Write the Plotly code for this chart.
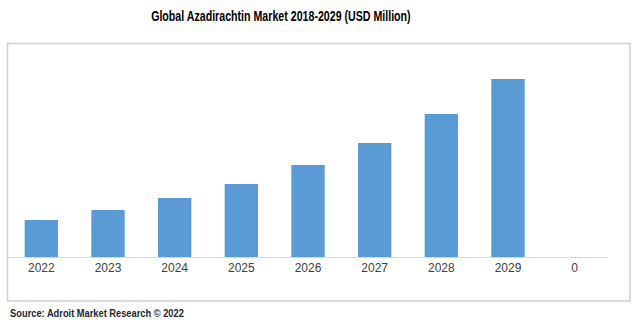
import plotly.graph_objects as go

categories = ["2022", "2023", "2024", "2025", "2026", "2027", "2028", "2029", "0"]
values = [37, 47, 59, 73, 92, 114, 143, 178, None]

W, H = 635, 323
L, R, T, B = 8, 27, 57, 66
pw, ph = W - L - R, H - T - B

def px(x):
    return (x - L) / pw

def py(y):
    return (H - B - y) / ph

fig = go.Figure(go.Bar(x=categories, y=values, marker_color="#5B9BD5",
                       marker_line_width=0))

fig.update_layout(
    width=W, height=H,
    margin=dict(l=L, r=R, t=T, b=B),
    paper_bgcolor="white", plot_bgcolor="white",
    bargap=0.5,
    showlegend=False,
    xaxis=dict(type="category", showline=True, linecolor="#d9d9d9", linewidth=1,
               showgrid=False, ticks="", zeroline=False,
               tickfont=dict(family="Liberation Sans, Arial, sans-serif", size=12, color="#404040")),
    yaxis=dict(range=[0, 200], visible=False, showgrid=False, zeroline=False),
    shapes=[dict(type="rect", xref="paper", yref="paper",
                 x0=px(7.5), x1=px(630), y0=py(301), y1=py(43.5),
                 line=dict(color="#d0d0d0", width=1.5), layer="below")],
    annotations=[
        dict(text="<b>Global Azadirachtin Market 2018-2029 (USD Million)</b>",
             xref="paper", yref="paper", x=px(281), y=py(16),
             xanchor="center", yanchor="middle", showarrow=False,
             font=dict(family="Liberation Sans, Arial, sans-serif", size=14, color="#000000")),
        dict(text="<b>Source: Adroit Market Research © 2022</b>",
             xref="paper", yref="paper", x=px(8), y=py(313),
             xanchor="left", yanchor="middle", showarrow=False,
             font=dict(family="Liberation Sans, Arial, sans-serif", size=11, color="#1f1f2e")),
    ],
)

post = """
(function(){
  function narrow(){
    document.querySelectorAll('.annotation-text').forEach(function(t){
      var s = t.textContent || '';
      if (s.indexOf('Global') === 0) {
        t.style.transformBox = 'fill-box';
        t.style.transformOrigin = 'center';
        t.style.transform = 'scaleX(0.76)';
      } else if (s.indexOf('Source') === 0) {
        t.style.transformBox = 'fill-box';
        t.style.transformOrigin = 'left center';
        t.style.transform = 'scaleX(0.845)';
      }
    });
  }
  narrow();
  var gd = document.getElementById('{plot_id}');
  if (gd && gd.on) { gd.on('plotly_afterplot', narrow); }
})();
"""

fig.write_html("out.html", post_script=post)
